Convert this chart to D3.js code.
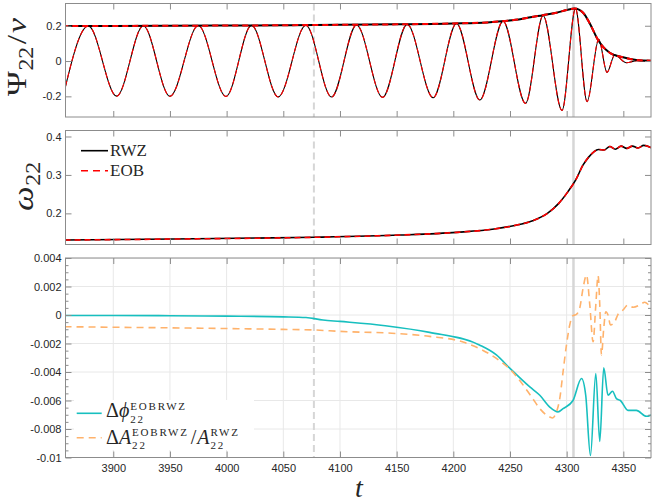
<!DOCTYPE html>
<html><head><meta charset="utf-8">
<script src="https://cdn.jsdelivr.net/npm/d3@7"></script>
<style>body{margin:0;background:#fff} svg{display:block}</style>
</head><body><svg id="c" width="652" height="502"></svg>
<script>
// ---------------- data ----------------
const tTicks = [3900, 3950, 4000, 4050, 4100, 4150, 4200, 4250, 4300, 4350];
const psiTicks = [-0.2, 0, 0.2];
const psiTickLabels = ["-0.2", "0", "0.2"];
const omegaTicks = [0.2, 0.3, 0.4];
const omegaTickLabels = ["0.2", "0.3", "0.4"];
const diffTicks = [-0.01, -0.008, -0.006, -0.004, -0.002, 0, 0.002, 0.004];
const diffTickLabels = ["-0.01", "-0.008", "-0.006", "-0.004", "-0.002", "0", "0.002", "0.004"];
const diffMinor = [-0.0095,-0.009,-0.0085,-0.0075,-0.007,-0.0065,-0.0055,-0.005,-0.0045,-0.0035,-0.003,-0.0025,-0.0015,-0.001,-0.0005,0.0005,0.001,0.0015,0.0025,0.003,0.0035];

const tMarkDashed = 4077;
const tMarkSolid = 4306;

// Re(Psi22)/nu extrema (RWZ & EOB overlap)
const psiWaveT = [3855.8, 3878.0, 3903.0, 3926.5, 3950.0, 3975.0, 3999.4, 4022.0, 4045.5, 4069.9, 4092.6, 4114.6, 4137.6, 4159.3, 4182.2, 4202.8, 4223.4, 4243.9, 4263.7, 4279.2, 4295.9, 4307.8, 4318.0, 4328.3, 4335.6, 4342.4, 4352.7, 4362.0, 4375.0];
const psiWaveV = [-0.198, 0.199, -0.199, 0.200, -0.200, 0.201, -0.201, 0.202, -0.203, 0.203, -0.204, 0.205, -0.206, 0.208, -0.208, 0.213, -0.221, 0.226, -0.240, 0.258, -0.280, 0.297, -0.230, 0.123, -0.064, 0.034, -0.010, 0.002, 0.0];
// |Psi22|/nu
const psiAmpT = [3855, 3900, 3950, 4000, 4050, 4100, 4150, 4200, 4230, 4245, 4260, 4268, 4279, 4291, 4300, 4307, 4314.5, 4320.4, 4327.7, 4338, 4349.7, 4361.5, 4375];
const psiAmpV = [0.199, 0.199, 0.200, 0.201, 0.203, 0.205, 0.208, 0.213, 0.219, 0.227, 0.238, 0.248, 0.260, 0.274, 0.289, 0.298, 0.274, 0.213, 0.119, 0.047, 0.021, 0.006, 0.002];

// omega22
const omegaT = [3857, 3953, 4077, 4153, 4203, 4236, 4253, 4270, 4283, 4293, 4301, 4308, 4314.5, 4319.6, 4324, 4328, 4333, 4338, 4343, 4348, 4353, 4358, 4363, 4368, 4375];
const omegaV = [0.1306, 0.1332, 0.1377, 0.1436, 0.1506, 0.1592, 0.1678, 0.1808, 0.200, 0.226, 0.256, 0.287, 0.326, 0.347, 0.360, 0.366, 0.365, 0.374, 0.367, 0.375, 0.369, 0.375, 0.370, 0.377, 0.370];

// Delta phi22 (EOB-RWZ)
const dPhiT = [3857, 3900, 3950, 4000, 4050, 4070, 4085, 4100, 4140, 4179, 4223, 4238, 4250, 4267.5, 4276.3, 4285.1, 4292.4, 4296.8, 4305.6, 4313.1, 4316.8, 4321.0, 4325.7, 4329.2, 4332.7, 4336.5, 4340.4, 4343.9, 4347.4, 4354.1, 4361.5, 4370.4, 4375];
const dPhiV = [-0.00003, -0.00004, -0.00005, -0.00008, -0.00013, -0.00018, -0.00035, -0.00045, -0.00075, -0.00122, -0.0021, -0.0028, -0.00375, -0.00505, -0.00563, -0.00646, -0.0068, -0.00657, -0.006, -0.00446, -0.00563, -0.00986, -0.0041, -0.00887, -0.00371, -0.00563, -0.00535, -0.00587, -0.006, -0.00669, -0.00669, -0.00711, -0.007];

// Delta A22 / A22 (EOB-RWZ)
const dAT = [3857, 3900, 3950, 4000, 4050, 4077, 4100, 4150, 4179, 4208.6, 4238, 4250, 4269, 4276.3, 4285.1, 4287.5, 4291, 4293.9, 4296.8, 4299.8, 4302.7, 4305.1, 4308.6, 4311.5, 4314.5, 4317.5, 4320.4, 4323.3, 4325.7, 4327.7, 4329.2, 4330.7, 4332.7, 4334.5, 4336.5, 4338.6, 4342.4, 4345.3, 4349.7, 4354.1, 4358.6, 4364.5, 4368.9, 4373.2, 4375];
const dAV = [-0.00082, -0.00086, -0.0009, -0.00095, -0.00101, -0.00105, -0.00115, -0.0013, -0.0015, -0.0019, -0.00305, -0.0038, -0.00574, -0.00657, -0.00716, -0.00723, -0.0068, -0.00587, -0.004, -0.00211, -0.0007, -0.00007, 0.00005, 0.00047, 0.0019, 0.0028, 0.0007, -0.00188, 0.0007, 0.00277, 0.0007, -0.0028, -0.00094, 0.00023, 0.0, -0.0007, -0.00047, 0.00005, 0.00035, 0.0007, 0.00054, 0.0007, 0.0009, 0.00066, 0.0006];

// ---------------- drawing ----------------
const svg = d3.select("#c");
const L = 65.5, R = 651;
const AX = "#8c8c8c", TXT = "#262626";
const SANS = '"Liberation Sans", Arial, Helvetica, sans-serif';
const SERIF = '"Liberation Serif", "DejaVu Serif", serif';
const x = d3.scaleLinear().domain([3857.85, 4374.4]).range([L, R]);

const panels = [
  {id: "p1", y0: 3.5, y1: 117, dom: [-0.317, 0.326], ticks: psiTicks, labels: psiTickLabels},
  {id: "p2", y0: 130.5, y1: 244.5, dom: [0.119, 0.4156], ticks: omegaTicks, labels: omegaTickLabels},
  {id: "p3", y0: 258, y1: 457.5, dom: [-0.01, 0.004], ticks: diffTicks, labels: diffTickLabels, grid: true, minor: diffMinor, xlabels: true}
];

const defs = svg.append("defs");
panels.forEach(p => {
  p.y = d3.scaleLinear().domain(p.dom).range([p.y1, p.y0]);
  defs.append("clipPath").attr("id", "clip-" + p.id).append("rect")
    .attr("x", L).attr("y", p.y0).attr("width", R - L).attr("height", p.y1 - p.y0);
  p.g = svg.append("g");
  p.plot = p.g.append("g").attr("clip-path", `url(#clip-${p.id})`);
});

function styleAxis(g) {
  g.select(".domain").remove();
  g.selectAll(".tick line").attr("stroke", AX);
  g.selectAll(".tick text").attr("fill", TXT).style("font-family", SANS).style("font-size", "11px");
}

panels.forEach(p => {
  if (p.grid) {
    tTicks.forEach(t => p.plot.append("line").attr("x1", x(t)).attr("x2", x(t)).attr("y1", p.y0).attr("y2", p.y1)
      .attr("stroke", "#e8e8e8").attr("stroke-width", 1));
    p.ticks.forEach(v => p.plot.append("line").attr("x1", L).attr("x2", R).attr("y1", p.y(v)).attr("y2", p.y(v))
      .attr("stroke", "#e8e8e8").attr("stroke-width", 1));
  }
  p.plot.append("line").attr("x1", x(tMarkDashed)).attr("x2", x(tMarkDashed)).attr("y1", p.y0).attr("y2", p.y1)
    .attr("stroke", "#d6d6d6").attr("stroke-width", 2).attr("stroke-dasharray", "7,4");
  p.plot.append("line").attr("x1", x(tMarkSolid)).attr("x2", x(tMarkSolid)).attr("y1", p.y0).attr("y2", p.y1)
    .attr("stroke", "#d6d6d6").attr("stroke-width", 2.5);
});

function lineGen(p) {
  return d3.line().x(d => x(d[0])).y(d => p.y(d[1])).curve(d3.curveMonotoneX);
}
function pairs(a, b) { return a.map((t, i) => [t, b[i]]); }

// Panel 1
{
  const p = panels[0], lg = lineGen(p);
  const wave = pairs(psiWaveT, psiWaveV), amp = pairs(psiAmpT, psiAmpV);
  p.plot.append("path").attr("d", lg(wave)).attr("fill", "none").attr("stroke", "#000").attr("stroke-width", 1.1);
  p.plot.append("path").attr("d", lg(wave)).attr("fill", "none").attr("stroke", "#ff0000").attr("stroke-width", 1.1).attr("stroke-dasharray", "6,3");
  p.plot.append("path").attr("d", lg(amp)).attr("fill", "none").attr("stroke", "#000").attr("stroke-width", 2);
  p.plot.append("path").attr("d", lg(amp)).attr("fill", "none").attr("stroke", "#ff0000").attr("stroke-width", 2).attr("stroke-dasharray", "6,4");
}
// Panel 2
{
  const p = panels[1], lg = lineGen(p);
  const om = pairs(omegaT, omegaV);
  p.plot.append("path").attr("d", lg(om)).attr("fill", "none").attr("stroke", "#000").attr("stroke-width", 1.6);
  p.plot.append("path").attr("d", lg(om)).attr("fill", "none").attr("stroke", "#ff0000").attr("stroke-width", 1.6).attr("stroke-dasharray", "6,4");
}
// Panel 3
{
  const p = panels[2], lg = lineGen(p);
  p.plot.append("path").attr("d", lg(pairs(dPhiT, dPhiV))).attr("fill", "none").attr("stroke", "#17bfbf").attr("stroke-width", 1.6);
  p.plot.append("path").attr("d", lg(pairs(dAT, dAV))).attr("fill", "none").attr("stroke", "#ffb26b").attr("stroke-width", 1.6).attr("stroke-dasharray", "7,5");
}

// axes
panels.forEach(p => {
  const bottom = p.g.append("g").attr("transform", `translate(0,${p.y1})`)
    .call(d3.axisBottom(x).tickValues(tTicks).tickSize(-6).tickPadding(7).tickFormat(p.xlabels ? d3.format("d") : () => ""));
  styleAxis(bottom);
  const top = p.g.append("g").attr("transform", `translate(0,${p.y0})`)
    .call(d3.axisTop(x).tickValues(tTicks).tickSize(-6).tickFormat(() => ""));
  styleAxis(top);
  const left = p.g.append("g").attr("transform", `translate(${L},0)`)
    .call(d3.axisLeft(p.y).tickValues(p.ticks).tickSize(-6).tickPadding(4).tickFormat((d, i) => p.labels[i]));
  styleAxis(left);
  const right = p.g.append("g").attr("transform", `translate(${R},0)`)
    .call(d3.axisRight(p.y).tickValues(p.ticks).tickSize(-6).tickFormat(() => ""));
  styleAxis(right);
  if (p.minor) {
    const ml = p.g.append("g").attr("transform", `translate(${L},0)`)
      .call(d3.axisLeft(p.y).tickValues(p.minor).tickSize(-3).tickFormat(() => ""));
    styleAxis(ml);
    const mr = p.g.append("g").attr("transform", `translate(${R},0)`)
      .call(d3.axisRight(p.y).tickValues(p.minor).tickSize(-3).tickFormat(() => ""));
    styleAxis(mr);
  }
  p.g.append("rect").attr("x", L).attr("y", p.y0).attr("width", R - L).attr("height", p.y1 - p.y0)
    .attr("fill", "none").attr("stroke", AX).attr("stroke-width", 1);
});

// math text helper: one <text> element with positioned tspans
function drawMath(g, items) {
  const text = g.append("text").attr("fill", TXT).style("font-family", SERIF);
  let cx = 0;
  const add = (str, size, dy, italic, xpos, ls) => {
    const ts = text.append("tspan").attr("x", xpos).attr("y", dy)
      .style("font-size", size + "px").style("font-style", italic ? "italic" : "normal")
      .style("letter-spacing", (ls || 0) + "px").text(str);
    return ts.node().getComputedTextLength();
  };
  items.forEach(it => {
    if (it.sub !== undefined || it.sup !== undefined) {
      let w = 0;
      if (it.sup !== undefined) w = Math.max(w, add(it.sup, it.size, -it.supShift, false, cx, it.ls));
      if (it.sub !== undefined) w = Math.max(w, add(it.sub, it.size, it.subShift, false, cx, it.ls));
      cx += w + (it.after || 0);
    } else {
      cx += add(it.t, it.size, it.dy || 0, it.italic, cx) + (it.after || 0);
    }
  });
  return cx;
}

// y labels
drawMath(svg.append("g").attr("transform", "translate(26,96) rotate(-90) scale(1.2,1)"), [
  {t: "Ψ", size: 28, after: 0.5},
  {sub: "22", size: 20, subShift: 7, after: 2},
  {t: "/", size: 28, after: 1.5},
  {t: "ν", size: 28, italic: true}
]);
drawMath(svg.append("g").attr("transform", "translate(33,211) rotate(-90) scale(1.2,1)"), [
  {t: "ω", size: 29, italic: true, after: 0.5},
  {sub: "22", size: 20, subShift: 7}
]);
// x label
svg.append("text").attr("x", 359).attr("y", 497).attr("text-anchor", "middle").attr("fill", TXT)
  .style("font-family", SERIF).style("font-size", "28px").style("font-style", "italic").text("t");

// legend panel 2
{
  const lg = svg.append("g");
  lg.append("line").attr("x1", 81).attr("x2", 108).attr("y1", 150.7).attr("y2", 150.7).attr("stroke", "#000").attr("stroke-width", 1.6);
  lg.append("line").attr("x1", 81).attr("x2", 108).attr("y1", 170.7).attr("y2", 170.7).attr("stroke", "#ff0000").attr("stroke-width", 1.6).attr("stroke-dasharray", "7,5");
  lg.append("text").attr("x", 110).attr("y", 156).attr("fill", TXT).style("font-family", SERIF).style("font-size", "17px").text("RWZ");
  lg.append("text").attr("x", 110).attr("y", 176).attr("fill", TXT).style("font-family", SERIF).style("font-size", "17px").text("EOB");
}
// legend panel 3
{
  const lg = svg.append("g");
  lg.append("rect").attr("x", 74).attr("y", 400).attr("width", 180).attr("height", 50).attr("fill", "#fff");
  lg.append("line").attr("x1", 76.7).attr("x2", 101.7).attr("y1", 413.3).attr("y2", 413.3).attr("stroke", "#17bfbf").attr("stroke-width", 1.6);
  lg.append("line").attr("x1", 76.7).attr("x2", 101.7).attr("y1", 437.7).attr("y2", 437.7).attr("stroke", "#ffb26b").attr("stroke-width", 1.6).attr("stroke-dasharray", "7,5");
  drawMath(lg.append("g").attr("transform", "translate(106,417)"), [
    {t: "Δ", size: 20},
    {t: "ϕ", size: 20, italic: true, after: 1},
    {sup: "EOBRWZ", sub: "22", size: 11, supShift: 7, subShift: 5.5, ls: 1.8}
  ]);
  drawMath(lg.append("g").attr("transform", "translate(106,443.5)"), [
    {t: "Δ", size: 20},
    {t: "A", size: 20, italic: true, after: 1},
    {sup: "EOBRWZ", sub: "22", size: 11, supShift: 7.5, subShift: 5, ls: 1.8, after: 2},
    {t: "/", size: 20, after: 1},
    {t: "A", size: 20, italic: true, after: 1},
    {sup: "RWZ", sub: "22", size: 11, supShift: 7.5, subShift: 5, ls: 1.8}
  ]);
}
</script></body></html>
